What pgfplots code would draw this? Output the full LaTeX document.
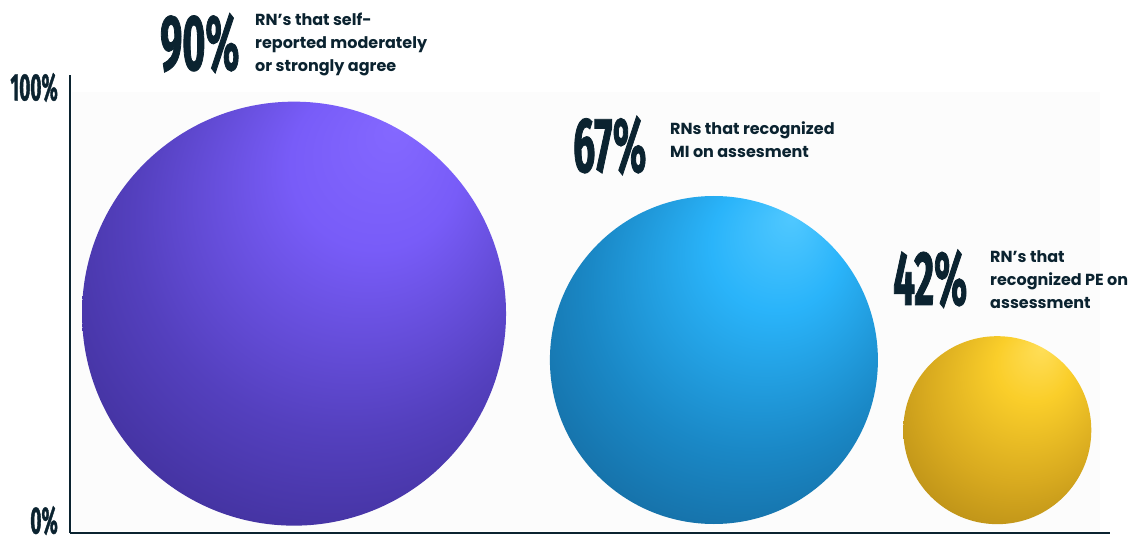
\documentclass[border=0pt]{standalone}
\usepackage{pgfplots}
\pgfplotsset{compat=1.18}
\usepackage{fontspec}
\setmainfont{Poppins}
\newfontfamily\numfont[FakeStretch=0.5,FakeBold=1]{Fira Sans}
\definecolor{navy}{HTML}{0B2330}
\definecolor{panel}{HTML}{FCFCFC}
% purple sphere
\definecolor{pA}{HTML}{8468FF}\definecolor{pB}{HTML}{785CF8}\definecolor{pC}{HTML}{5440BE}
\definecolor{pD}{HTML}{40309A}\definecolor{pE}{HTML}{34277A}
% blue sphere
\definecolor{bA}{HTML}{50C8FF}\definecolor{bB}{HTML}{2AB4FA}\definecolor{bC}{HTML}{1A88C6}
\definecolor{bD}{HTML}{156CA2}\definecolor{bE}{HTML}{12557C}
% yellow sphere
\definecolor{yA}{HTML}{FFDE58}\definecolor{yB}{HTML}{FACE2A}\definecolor{yC}{HTML}{D8AA1F}
\definecolor{yD}{HTML}{BA8F17}\definecolor{yE}{HTML}{917012}
\pgfdeclareradialshading{shP}{\pgfpoint{12bp}{22bp}}{color(0bp)=(pA); color(10bp)=(pB); color(25bp)=(pC); color(36bp)=(pD); color(46bp)=(pE); color(50bp)=(pE)}
\pgfdeclareradialshading{shB}{\pgfpoint{12bp}{22bp}}{color(0bp)=(bA); color(10bp)=(bB); color(25bp)=(bC); color(36bp)=(bD); color(46bp)=(bE); color(50bp)=(bE)}
\pgfdeclareradialshading{shY}{\pgfpoint{12bp}{22bp}}{color(0bp)=(yA); color(10bp)=(yB); color(25bp)=(yC); color(36bp)=(yD); color(46bp)=(yE); color(50bp)=(yE)}
\pgfdeclareplotmark{sphP}{\pgfpathcircle{\pgfpointorigin}{\pgfplotmarksize}\pgfshadepath{shP}{0}\pgfusepath{discard}}
\pgfdeclareplotmark{sphB}{\pgfpathcircle{\pgfpointorigin}{\pgfplotmarksize}\pgfshadepath{shB}{0}\pgfusepath{discard}}
\pgfdeclareplotmark{sphY}{\pgfpathcircle{\pgfpointorigin}{\pgfplotmarksize}\pgfshadepath{shY}{0}\pgfusepath{discard}}
\begin{document}
\begin{tikzpicture}
\useasboundingbox (0,0) rectangle (1138pt,538pt);
\fill[panel] (72pt,7pt) rectangle (1100pt,446pt);
\begin{axis}[
  at={(70pt,5pt)}, anchor=south west,
  scale only axis, width=1040pt, height=458pt,
  xmin=0, xmax=240, ymin=-2.54, ymax=103.2,
  axis x line=bottom, axis y line=left,
  axis line style={-, line width=2.6pt, color=navy},
  xtick=\empty, ytick={0,100}, yticklabels={0\%,100\%},
  major tick length=0pt,
  yticklabel style={font=\numfont\bfseries\fontsize{38}{38}\selectfont, text=navy, inner sep=0pt, anchor=base east, xshift=-12pt, yshift=-11.5pt},
  clip=false,
]
\addplot[only marks, mark=sphP, mark size=212pt] coordinates {(51.7,48.1)};
\addplot[only marks, mark=sphB, mark size=164pt] coordinates {(148.6,37.4)};
\addplot[only marks, mark=sphY, mark size=94pt] coordinates {(214.0,21.2)};
\end{axis}
\begin{scope}[every node/.style={inner sep=0pt, text=navy}]
\node[anchor=base west, font=\numfont\bfseries\fontsize{79}{79}\selectfont] at (160pt,468pt) {90\%};
\node[anchor=north west, align=left, font=\bfseries\fontsize{16}{23}\selectfont] at (255pt,525pt) {RN’s that self-\\reported moderately\\or strongly agree};
\node[anchor=base west, font=\numfont\bfseries\fontsize{78}{78}\selectfont] at (573pt,366pt) {67\%};
\node[anchor=north west, align=left, font=\bfseries\fontsize{16}{23}\selectfont] at (670pt,417pt) {RNs that recognized\\MI on assesment};
\node[anchor=base west, font=\numfont\bfseries\fontsize{77}{77}\selectfont] at (893pt,233pt) {42\%};
\node[anchor=north west, align=left, font=\bfseries\fontsize{16}{23}\selectfont] at (990pt,288pt) {RN’s that\\recognized PE on\\assessment};
\end{scope}
\end{tikzpicture}
\end{document}
